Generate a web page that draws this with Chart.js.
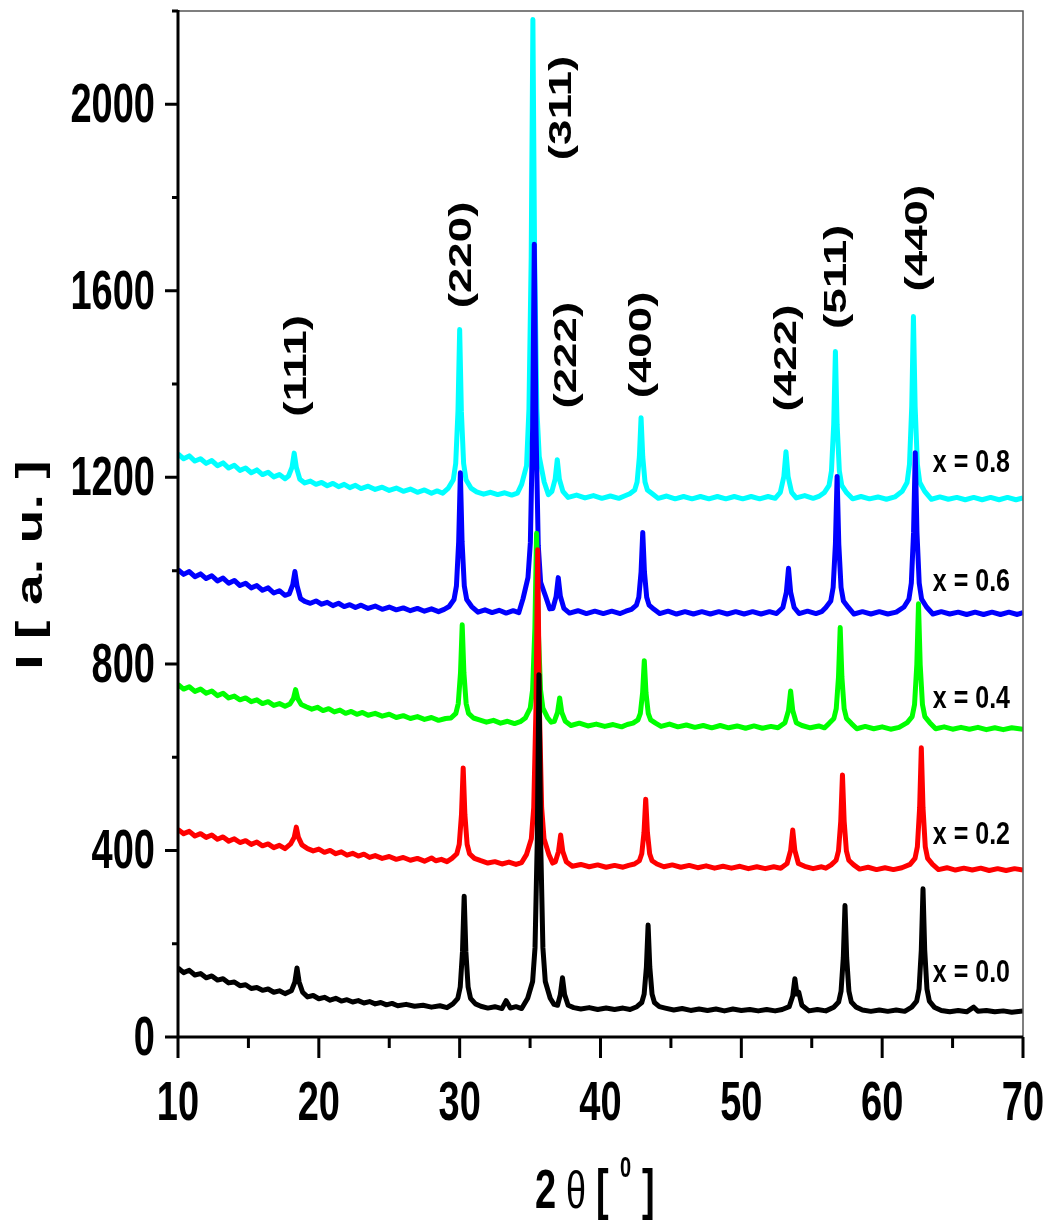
<!DOCTYPE html>
<html>
<head>
<meta charset="utf-8">
<script src="https://cdn.jsdelivr.net/npm/chart.js"></script>
<style>
  html, body { margin: 0; padding: 0; background: #fff; }
  canvas { display: block; }
</style>
</head>
<body>
<canvas id="xrd" width="1051" height="1226"></canvas>
<script>
// XRD patterns, 2theta [deg] vs intensity [a.u.], one array per composition
const x00 = [
  [10,148],[10.4,138],[10.8,143],[11.2,133],[11.6,136],[12,127],[12.4,131],[12.8,122],[13.2,125],[13.6,116],[14,118],[14.4,110],[14.8,112],[15.2,104],[15.6,106],[16,100],[16.4,103],[16.8,96],[17.2,99],[17.6,93],
  [18.05,99],[18.3,118],[18.45,148],[18.6,118],[18.85,96],
  [19.2,86],[19.6,89],[20,82],[20.4,85],[20.8,79],[21.2,83],[21.6,77],[22,80],[22.4,75],[22.8,78],[23.2,73],[23.6,76],[24,71],[24.4,74],[24.8,69],[25.2,72],[25.6,67],[26.2,70],[26.8,66],[27.4,68],[28,64],[28.6,67],[29.1,63],
  [29.52,71],[29.87,83],[30.04,107],[30.2,183],[30.32,302],[30.44,183],[30.6,107],[30.77,83],[31.12,71],
  [31.5,66],[32,62],[32.5,65],[33,61],[33.3,78],[33.6,62],[34,65],[34.4,61],
  [34.83,83],[35.18,119],[35.35,191],[35.51,420],[35.63,777],[35.75,420],[35.91,191],[36.08,119],[36.43,83],
  [36.7,70],
  [36.95,68],[37.15,91],[37.3,127],[37.45,91],[37.7,68],
  [38.1,63],[38.6,60],[39.2,63],[39.8,59],[40.4,62],[41,59],[41.6,62],[42.1,59],
  [42.58,65],[42.93,74],[43.1,92],[43.26,150],[43.38,240],[43.5,150],[43.66,92],[43.83,74],[44.18,65],
  [44.6,62],[45.2,58],[45.8,61],[46.4,57],[47,60],[47.6,57],[48.2,60],[48.8,56],[49.4,60],[50,57],[50.6,59],[51.2,56],[51.8,59],[52.4,56],[52.9,59],
  [53.4,65],[53.65,88],[53.8,125],[53.95,92],[54.08,96],[54.3,68],
  [54.8,56],[55.4,59],[56,56],
  [56.56,64],[56.91,75],[57.08,98],[57.24,170],[57.36,282],[57.48,170],[57.64,98],[57.81,75],[58.16,64],
  [58.6,58],[59.2,55],[59.8,58],[60.4,55],[61,58],[61.6,55],
  [62.1,64],[62.45,77],[62.62,103],[62.78,187],[62.9,318],[63.02,187],[63.18,103],[63.35,77],[63.7,64],
  [64.2,57],[64.8,54],[65.4,57],[66,54],[66.5,64],[66.8,55],[67.4,57],[68,54],[68.6,56],[69.2,53],[70,56]
];

const x02 = [
  [10,445],[10.4,436],[10.8,441],[11.2,431],[11.6,436],[12,428],[12.4,433],[12.8,424],[13.2,429],[13.6,420],[14,425],[14.4,417],[14.8,421],[15.2,413],[15.6,418],[16,410],[16.4,414],[16.8,406],[17.2,411],[17.6,404],
  [18,414],[18.25,428],[18.4,450],[18.55,428],[18.8,412],
  [19.2,404],[19.6,399],[20,403],[20.4,396],[20.8,400],[21.2,393],[21.6,397],[22,390],[22.4,394],[22.8,388],[23.2,392],[23.6,385],[24,389],[24.5,383],[25,387],[25.5,381],[26,385],[26.5,379],[27,383],[27.5,377],[28,384],[28.3,378],[28.7,381],[29.1,376],
  [29.45,383],[29.8,393],[29.97,413],[30.13,477],[30.25,577],[30.37,477],[30.53,413],[30.7,393],[31.05,383],
  [31.5,378],[32,373],[32.5,376],[33,371],[33.5,375],[34,370],[34.4,374],
  [34.74,391],[35.09,425],[35.26,492],[35.42,708],[35.54,1045],[35.66,708],[35.82,492],[35.99,425],[36.34,391],
  [36.6,373],
  [36.8,376],[37.02,398],[37.17,433],[37.32,398],[37.57,376],
  [38,366],[38.6,370],[39.2,365],[39.8,369],[40.4,364],[41,368],[41.6,364],[42,368],
  [42.41,371],[42.76,378],[42.93,393],[43.09,439],[43.21,510],[43.33,439],[43.49,393],[43.66,378],[44.01,371],
  [44.5,365],[45.1,369],[45.7,364],[46.3,368],[46.9,363],[47.5,367],[48.1,362],[48.7,366],[49.3,362],[49.9,366],[50.5,361],[51.1,365],[51.7,361],[52.3,365],[52.8,362],
  [53.25,372],[53.5,400],[53.65,444],[53.8,400],[54.05,372],
  [54.5,366],[55.1,361],[55.7,365],[56,362],
  [56.38,369],[56.73,379],[56.9,399],[57.06,463],[57.18,562],[57.3,463],[57.46,399],[57.63,379],[57.98,369],
  [58.4,360],[59,364],[59.6,359],[60.2,363],[60.8,359],[61.4,363],
  [61.98,370],[62.33,383],[62.5,408],[62.66,491],[62.78,620],[62.9,491],[63.06,408],[63.23,383],[63.58,370],
  [64,359],[64.6,363],[65.2,358],[65.8,362],[66.4,358],[67,362],[67.6,357],[68.2,361],[68.8,357],[69.4,361],[70,358]
];

const x04 = [
  [10,756],[10.4,746],[10.8,751],[11.2,741],[11.6,746],[12,737],[12.4,742],[12.8,732],[13.2,737],[13.6,727],[14,731],[14.4,723],[14.8,727],[15.2,719],[15.6,723],[16,715],[16.4,719],[16.8,711],[17.2,715],[17.6,709],
  [17.95,714],[18.2,726],[18.35,745],[18.5,726],[18.75,713],
  [19.1,708],[19.5,703],[19.9,707],[20.3,700],[20.7,704],[21.1,697],[21.5,701],[21.9,694],[22.3,698],[22.7,692],[23.1,696],[23.5,690],[24,694],[24.5,688],[25,692],[25.5,685],[26,689],[26.5,683],[27,687],[27.5,681],[28,685],[28.5,679],[29,683],
  [29.38,684],[29.73,694],[29.9,715],[30.06,781],[30.18,884],[30.3,781],[30.46,715],[30.63,694],[30.98,684],
  [31.4,680],[31.9,675],[32.4,679],[32.9,673],[33.4,677],[33.9,672],[34.3,676],
  [34.66,684],[35.01,705],[35.18,745],[35.34,876],[35.46,1080],[35.58,876],[35.74,745],[35.91,705],[36.26,684],
  [36.5,675],
  [36.72,677],[36.95,696],[37.1,727],[37.25,696],[37.5,677],
  [37.9,668],[38.5,673],[39.1,667],[39.7,671],[40.3,666],[40.9,670],[41.5,665],[41.9,670],
  [42.31,673],[42.66,680],[42.83,694],[42.99,738],[43.11,807],[43.23,738],[43.39,694],[43.56,680],[43.91,673],
  [44.3,666],[44.9,671],[45.5,665],[46.1,669],[46.7,664],[47.3,668],[47.9,663],[48.5,668],[49.1,663],[49.7,667],[50.3,662],[50.9,667],[51.5,662],[52.1,666],[52.6,663],
  [53.1,674],[53.35,700],[53.5,742],[53.65,700],[53.9,674],
  [54.3,668],[54.9,663],[55.5,667],[55.9,663],
  [56.22,672],[56.57,683],[56.74,704],[56.9,772],[57.02,878],[57.14,772],[57.3,704],[57.47,683],[57.82,672],
  [58.2,661],[58.8,666],[59.4,661],[60,665],[60.6,660],[61.2,664],
  [61.78,674],[62.13,687],[62.3,713],[62.46,798],[62.58,929],[62.7,798],[62.86,713],[63.03,687],[63.38,674],
  [63.8,661],[64.4,665],[65,660],[65.6,664],[66.2,660],[66.8,664],[67.4,659],[68,663],[68.6,659],[69.2,663],[70,660]
];

const x06 = [
  [10,1002],[10.4,992],[10.8,998],[11.2,987],[11.6,993],[12,983],[12.4,989],[12.8,978],[13.2,984],[13.6,973],[14,979],[14.4,968],[14.8,973],[15.2,963],[15.6,968],[16,958],[16.4,963],[16.8,952],[17.2,957],[17.6,947],
  [17.9,950],[18.15,970],[18.3,998],[18.45,968],[18.7,940],
  [19,934],[19.4,930],[19.8,935],[20.2,928],[20.6,932],[21,925],[21.4,930],[21.8,923],[22.2,927],[22.6,921],[23,926],[23.5,919],[24,924],[24.5,917],[25,922],[25.5,916],[26,920],[26.5,914],[27,919],[27.5,913],[28,918],[28.5,912],[28.9,917],
  [29.25,923],[29.6,938],[29.77,967],[29.93,1062],[30.05,1210],[30.17,1062],[30.33,967],[30.5,938],[30.85,923],
  [31.3,911],[31.8,916],[32.3,910],[32.8,915],[33.3,909],[33.8,914],[34.2,910],
  [34.5,940],[34.85,985],[35.02,1060],[35.18,1306],[35.3,1700],[35.42,1306],[35.58,1054],[35.75,975],[36.1,945],
  [36.4,918],
  [36.62,919],[36.85,945],[37,985],[37.15,945],[37.4,919],
  [37.8,909],[38.4,914],[39,908],[39.6,913],[40.2,908],[40.8,913],[41.4,908],[41.8,913],
  [42.2,917],[42.55,926],[42.72,943],[42.88,997],[43,1082],[43.12,997],[43.28,943],[43.45,926],[43.8,917],
  [44.2,908],[44.8,913],[45.4,907],[46,912],[46.6,907],[47.2,912],[47.8,907],[48.4,912],[49,907],[49.6,912],[50.2,907],[50.8,912],[51.4,907],[52,912],[52.5,908],
  [52.95,921],[53.2,954],[53.35,1005],[53.5,954],[53.75,921],
  [54.1,908],[54.7,913],[55.3,908],[55.7,912],
  [56,921],[56.35,935],[56.52,964],[56.68,1057],[56.8,1202],[56.92,1057],[57.08,964],[57.25,935],[57.6,921],
  [58,907],[58.6,912],[59.2,907],[59.8,912],[60.4,907],[61,911],
  [61.55,922],[61.9,939],[62.07,973],[62.23,1082],[62.35,1253],[62.47,1082],[62.63,973],[62.8,939],[63.15,922],
  [63.6,907],[64.2,912],[64.8,907],[65.4,911],[66,906],[66.6,911],[67.2,906],[67.8,911],[68.4,906],[69,911],[69.6,906],[70,910]
];

const x08 = [
  [10,1250],[10.4,1240],[10.8,1246],[11.2,1235],[11.6,1240],[12,1230],[12.4,1236],[12.8,1225],[13.2,1231],[13.6,1220],[14,1226],[14.4,1215],[14.8,1220],[15.2,1210],[15.6,1216],[16,1206],[16.4,1211],[16.8,1201],[17.2,1206],[17.6,1197],
  [17.85,1203],[18.1,1222],[18.25,1252],[18.4,1222],[18.65,1196],
  [19,1188],[19.4,1192],[19.8,1185],[20.2,1189],[20.6,1182],[21,1187],[21.4,1180],[21.8,1185],[22.2,1178],[22.6,1183],[23,1176],[23.5,1181],[24,1174],[24.5,1179],[25,1172],[25.5,1177],[26,1170],[26.5,1175],[27,1168],[27.5,1173],[28,1166],[28.4,1171],[28.8,1166],
  [29.2,1177],[29.55,1195],[29.72,1230],[29.88,1342],[30,1517],[30.12,1342],[30.28,1230],[30.45,1195],[30.8,1177],
  [31.2,1169],[31.7,1164],[32.2,1168],[32.7,1163],[33.2,1167],[33.7,1162],[34.1,1166],
  [34.4,1185],[34.75,1225],[34.92,1347],[35.08,1673],[35.2,2182],[35.32,1673],[35.48,1347],[35.65,1245],[36,1190],
  [36.3,1163],
  [36.55,1170],[36.78,1196],[36.93,1238],[37.08,1196],[37.33,1170],
  [37.7,1157],[38.3,1162],[38.9,1156],[39.5,1161],[40.1,1155],[40.7,1160],[41.3,1155],[41.7,1160],
  [42.08,1165],[42.43,1173],[42.6,1190],[42.76,1244],[42.88,1328],[43,1244],[43.16,1190],[43.33,1173],[43.68,1165],
  [44.1,1155],[44.7,1160],[45.3,1154],[45.9,1159],[46.5,1154],[47.1,1159],[47.7,1154],[48.3,1159],[48.9,1154],[49.5,1159],[50.1,1154],[50.7,1159],[51.3,1154],[51.9,1159],[52.4,1155],
  [52.77,1168],[53.02,1202],[53.17,1255],[53.32,1202],[53.57,1168],
  [53.9,1156],[54.5,1161],[55.1,1155],[55.5,1159],
  [55.88,1167],[56.23,1183],[56.4,1214],[56.56,1314],[56.68,1470],[56.8,1314],[56.96,1214],[57.13,1183],[57.48,1167],
  [57.9,1154],[58.5,1159],[59.1,1154],[59.7,1158],[60.3,1153],[60.9,1158],
  [61.42,1170],[61.77,1189],[61.94,1228],[62.1,1352],[62.22,1545],[62.34,1352],[62.5,1228],[62.67,1189],[63.02,1170],
  [63.5,1153],[64.1,1158],[64.7,1153],[65.3,1157],[65.9,1152],[66.5,1157],[67.1,1152],[67.7,1157],[68.3,1152],[68.9,1157],[69.5,1152],[70,1156]
];

// axis ticks
const xMajor = [10, 20, 30, 40, 50, 60, 70];
const xMinor = [15, 25, 35, 45, 55, 65];
const yMajor = [0, 400, 800, 1200, 1600, 2000];
const yMinor = [200, 600, 1000, 1400, 1800, 2200];

// Miller indices of the spinel reflections, placed at (2theta, I)
const hklText  = ['(111)', '(220)', '(311)', '(222)', '(400)', '(422)', '(511)', '(440)'];
const hklAngle = [18.45, 30.17, 37.27, 37.62, 42.95, 53.24, 56.79, 62.55];
const hklLevel = [1439, 1677, 1992, 1462, 1484, 1456, 1630, 1713];

// composition tags next to each pattern
const compText  = ['x = 0.0', 'x = 0.2', 'x = 0.4', 'x = 0.6', 'x = 0.8'];
const compLevel = [118, 414, 705, 956, 1211];
const compAngle = 63.6;

const FONT = '"Liberation Sans", Arial, sans-serif';

// text stretched vertically by k (tall narrow look of the plot's lettering)
function tallText(ctx, str, x, y, size, k, opts = {}) {
  ctx.save();
  ctx.translate(x, y);
  ctx.scale(1, k);
  if (opts.rotate) ctx.rotate(-Math.PI / 2);
  ctx.font = (opts.weight || 'bold') + ' ' + size + 'px ' + FONT;
  ctx.textAlign = opts.align || 'left';
  ctx.textBaseline = opts.baseline || 'alphabetic';
  ctx.fillStyle = '#000';
  ctx.fillText(str, 0, 0);
  ctx.restore();
}

const decor = {
  id: 'decor',
  afterDraw(chart) {
    const { ctx, chartArea: a } = chart;
    const xs = chart.scales.x, ys = chart.scales.y;
    ctx.save();

    // thin frame on top and right
    ctx.strokeStyle = '#555';
    ctx.lineWidth = 1.5;
    ctx.beginPath();
    ctx.moveTo(a.left, a.top);
    ctx.lineTo(a.right, a.top);
    ctx.lineTo(a.right, a.bottom);
    ctx.stroke();

    // heavy left / bottom axes with outward ticks
    ctx.strokeStyle = '#000';
    ctx.lineWidth = 3;
    ctx.beginPath();
    ctx.moveTo(a.left, a.top - 1);
    ctx.lineTo(a.left, a.bottom);
    ctx.lineTo(a.right, a.bottom);
    xMajor.forEach(v => { const p = xs.getPixelForValue(v); ctx.moveTo(p, a.bottom); ctx.lineTo(p, a.bottom + 21); });
    xMinor.forEach(v => { const p = xs.getPixelForValue(v); ctx.moveTo(p, a.bottom); ctx.lineTo(p, a.bottom + 11); });
    yMajor.forEach(v => { const p = ys.getPixelForValue(v); ctx.moveTo(a.left, p); ctx.lineTo(a.left - 13, p); });
    yMinor.forEach(v => { const p = ys.getPixelForValue(v); ctx.moveTo(a.left, p); ctx.lineTo(a.left - 6, p); });
    ctx.stroke();

    // tick labels
    xMajor.forEach(v => tallText(ctx, String(v), xs.getPixelForValue(v), a.bottom + 83, 38, 1.45, { align: 'center' }));
    yMajor.forEach(v => tallText(ctx, String(v), a.left - 23, ys.getPixelForValue(v) + 18, 38, 1.45, { align: 'right' }));

    // axis titles
    tallText(ctx, 'I [ a. u. ]', 32, 565, 37, 1.5, { rotate: true, align: 'center', baseline: 'middle' });
    tallText(ctx, '2', 535, 1208, 38, 1.45);
    tallText(ctx, '\u03b8', 566, 1208, 36, 1.45, { weight: 'normal' });
    tallText(ctx, '[', 596, 1208, 38, 1.45);
    tallText(ctx, '0', 620, 1177, 20, 1.45);
    tallText(ctx, ']', 642, 1208, 38, 1.45);

    // reflection labels
    hklText.forEach((t, i) => {
      tallText(ctx, t, xs.getPixelForValue(hklAngle[i]), ys.getPixelForValue(hklLevel[i]), 32, 1.43,
        { rotate: true, align: 'center', baseline: 'middle' });
    });

    // composition labels
    compText.forEach((t, i) => {
      tallText(ctx, t, xs.getPixelForValue(compAngle), ys.getPixelForValue(compLevel[i]), 25, 1.27);
    });

    ctx.restore();
  }
};

function series(label, data, color) {
  return {
    label, data,
    borderColor: color,
    backgroundColor: color,
    borderWidth: 5,
    borderJoinStyle: 'round',
    pointRadius: 0,
    tension: 0,
    fill: false
  };
}

// dataset 0 ends up on top, so the x = 0.0 pattern goes first
new Chart(document.getElementById('xrd'), {
  type: 'line',
  data: {
    datasets: [
      series('x = 0.0', x00, '#000000'),
      series('x = 0.2', x02, '#ff0000'),
      series('x = 0.4', x04, '#00ff00'),
      series('x = 0.6', x06, '#0000ff'),
      series('x = 0.8', x08, '#00ffff')
    ]
  },
  options: {
    responsive: false,
    devicePixelRatio: 1,
    animation: false,
    layout: { padding: { left: 178, right: 28, top: 11, bottom: 189 } },
    plugins: { legend: { display: false }, tooltip: { enabled: false } },
    scales: {
      x: { type: 'linear', min: 10, max: 70, display: false },
      y: { type: 'linear', min: 0, max: 2200, display: false }
    }
  },
  plugins: [decor]
});
</script>
</body>
</html>
